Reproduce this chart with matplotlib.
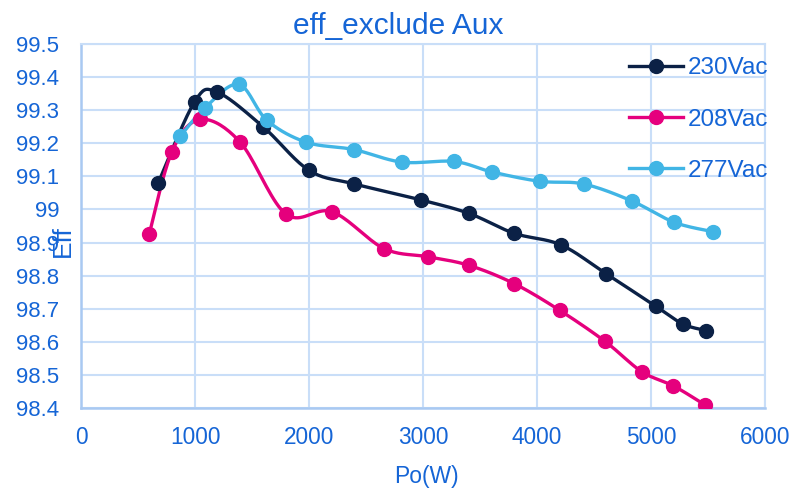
import numpy as np
import matplotlib
matplotlib.use("Agg")
import matplotlib.pyplot as plt

# data
po_230 = [677, 996, 1192, 1597, 2001, 2399, 2979, 3404, 3799, 4209, 4605, 5044, 5278, 5483]
eff_230 = [99.08, 99.325, 99.355, 99.25, 99.118, 99.077, 99.029, 98.988, 98.928, 98.893, 98.806, 98.707, 98.654, 98.634]

po_208 = [598, 797, 1046, 1397, 1798, 2203, 2657, 3046, 3404, 3799, 4200, 4598, 4918, 5196, 5475]
eff_208 = [98.925, 99.174, 99.272, 99.203, 98.986, 98.993, 98.882, 98.857, 98.831, 98.776, 98.695, 98.601, 98.510, 98.467, 98.409]

po_277 = [870, 1090, 1383, 1632, 1977, 2393, 2817, 3272, 3609, 4027, 4408, 4830, 5205, 5542]
eff_277 = [99.221, 99.308, 99.378, 99.269, 99.203, 99.181, 99.143, 99.145, 99.113, 99.085, 99.077, 99.026, 98.961, 98.933]

series = [("230Vac", po_230, eff_230, "#0b2146"),
          ("208Vac", po_208, eff_208, "#e5007d"),
          ("277Vac", po_277, eff_277, "#41b5e5")]

x_ticks = [0, 1000, 2000, 3000, 4000, 5000, 6000]
y_ticks = [98.4, 98.5, 98.6, 98.7, 98.8, 98.9, 99.0, 99.1, 99.2, 99.3, 99.4, 99.5]
y_tick_labels = ["98.4", "98.5", "98.6", "98.7", "98.8", "98.9", "99", "99.1", "99.2", "99.3", "99.4", "99.5"]

text_blue = "#1565d6"
grid_blue = "#c9def8"
spine_blue = "#a9c9f2"

plt.rcParams['font.family'] = ['Liberation Sans', 'DejaVu Sans']


def smooth(ax, xs, ys, n=20):
    # Excel-like smoothed line, computed in display space
    pts = ax.transData.transform(np.column_stack([xs, ys]))
    out = [pts[0]]
    for i in range(len(pts) - 1):
        p0 = pts[i - 1] if i > 0 else pts[i]
        p1 = pts[i]
        p2 = pts[i + 1]
        p3 = pts[i + 2] if i + 2 < len(pts) else pts[i + 1]
        c1 = p1 + (p2 - p0) / 6
        c2 = p2 - (p3 - p1) / 6
        t = np.linspace(0, 1, n)[1:, None]
        seg = ((1 - t) ** 3) * p1 + 3 * ((1 - t) ** 2) * t * c1 + 3 * (1 - t) * t ** 2 * c2 + t ** 3 * p2
        out.extend(seg)
    out = np.array(out)
    return ax.transData.inverted().transform(out)


fig = plt.figure(figsize=(7.94, 4.92), dpi=100)
ax = fig.add_axes([81 / 794, 1 - 408 / 492, 684 / 794, 364 / 492])
ax.set_xlim(0, 6000)
ax.set_ylim(98.4, 99.5)

ax.set_xticks(x_ticks)
ax.set_xticklabels([str(v) for v in x_ticks], fontsize=16.3, color=text_blue)
ax.set_yticks(y_ticks)
ax.set_yticklabels(y_tick_labels, fontsize=16, color=text_blue)
ax.tick_params(length=0)
ax.tick_params(axis='y', pad=15.5)
ax.tick_params(axis='x', pad=13)

ax.grid(True, color=grid_blue, linewidth=1.5)
ax.set_axisbelow(True)
for side in ["top", "right"]:
    ax.spines[side].set_color(grid_blue)
    ax.spines[side].set_linewidth(1.5)
for side in ["left", "bottom"]:
    ax.spines[side].set_color(spine_blue)
    ax.spines[side].set_linewidth(1.8)

handles = []
for label, xs, ys, col in series:
    curve = smooth(ax, xs, ys)
    ax.plot(curve[:, 0], curve[:, 1], color=col, linewidth=2.4, solid_capstyle='round', zorder=3)
    ax.plot(xs, ys, linestyle='none', marker='o', markersize=10, color=col, zorder=4)
    h, = ax.plot([], [], color=col, linewidth=2.4, marker='o', markersize=10, label=label)
    handles.append(h)

leg = ax.legend(handles=handles, loc='upper left', bbox_to_anchor=(535 / 684, 1.0),
                frameon=False, fontsize=17.5, handlelength=2.2, handletextpad=0.2,
                labelspacing=1.2, borderaxespad=0.15)
for t in leg.get_texts():
    t.set_color(text_blue)

fig.text(398 / 794, 1 - 26 / 492, "eff_exclude Aux", ha='center', va='center',
         fontsize=21.5, color=text_blue)
fig.text(426 / 794, 1 - 476 / 492, "Po(W)", ha='center', va='center',
         fontsize=16.5, color=text_blue)
fig.text(62.5 / 794, 1 - 241 / 492, "Eff", ha='center', va='center', rotation=90,
         fontsize=19, color=text_blue)

fig.savefig("out.png", dpi=100)
